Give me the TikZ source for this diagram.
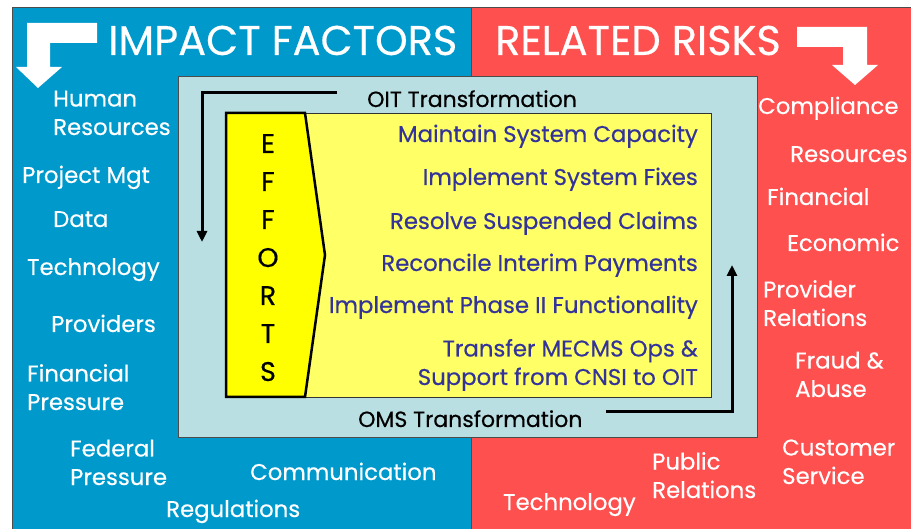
\documentclass[tikz,border=0pt]{standalone}
\usepackage{fontspec}
\setmainfont{Poppins}[FakeBold=0.4]
\usetikzlibrary{arrows.meta}
\definecolor{myblue}{RGB}{0,153,204}
\definecolor{myred}{RGB}{255,80,80}
\definecolor{mycyan}{RGB}{185,223,227}
\definecolor{mypale}{RGB}{255,255,102}
\definecolor{myyellow}{RGB}{255,255,0}
\definecolor{mynavy}{RGB}{51,51,153}
\newcommand\mysize[1]{\fontsize{#1}{28.5}\selectfont}

\begin{document}
\begin{tikzpicture}[x=1pt,y=-1pt,
    side/.style={anchor=base west,align=left,inner sep=0pt,text=white,
      font=\mysize{22.8}},
    task/.style={anchor=base east,align=right,inner sep=0pt,text=mynavy,
      font=\mysize{22.8}},
    title/.style={anchor=base west,inner sep=0pt,text=white,font=\mysize{41.5}},
    letter/.style={anchor=base,inner sep=0pt,font=\mysize{27}},
    trans/.style={anchor=base west,inner sep=0pt,font=\mysize{22}},
    flow/.style={line width=3pt,-{Triangle[length=11pt,width=10pt]}}]
    \useasboundingbox (0,0) rectangle (911,529);

    % two halves
    \filldraw[fill=myblue,draw=black!70] (12,7) rectangle (471,529);
    \filldraw[fill=myred,draw=black!70] (471,7) rectangle (911,529);

    % bent arrows
    \fill[white] (27,23) -- (97,23) -- (97,43) -- (50,43) -- (50,67)
      -- (62,67) -- (38,88) -- (16,67) -- (27,67) -- cycle;
    \fill[white] (797,27) -- (867,27) -- (867,65) -- (878,65) -- (855,85)
      -- (832,65) -- (843,65) -- (843,47) -- (797,47) -- cycle;

    \node[title] (impact) at (108,55) {IMPACT FACTORS};
    \node[title] (risks) at (495,55) {RELATED RISKS};

    % centre box
    \filldraw[fill=mycyan,draw=black!70,line width=1pt] (178,77) rectangle (757,438);
    \filldraw[fill=mypale,draw=black!80,line width=0.8pt] (226,113) rectangle (711,397);
    \filldraw[fill=myyellow,draw=black,line width=2.5pt,line join=miter]
      (226,113) -- (305,113) -- (325,255) -- (305,397) -- (226,397) -- cycle;

    \foreach \L [count=\i] in {E,F,F,O,R,T,S}
    {
      \node[letter] (ef\i) at (268,{153+38*(\i-1)}) {\L};
    }

    \node[task] (capacity) at (698,142) {Maintain System Capacity};
    \node[task] (fixes) at (698,185) {Implement System Fixes};
    \node[task] (claims) at (698,229) {Resolve Suspended Claims};
    \node[task] (payments) at (698,271) {Reconcile Interim Payments};
    \node[task] (phase) at (698,313) {Implement Phase II Functionality};
    \node[task] (mecms) at (698,385) {Transfer MECMS Ops \&\\Support from CNSI to OIT};

    % transformations
    \node[trans] (oit) at (367,107) {OIT Transformation};
    \node[trans] (oms) at (358,427) {OMS Transformation};
    \coordinate (oitA) at (337,93);
    \coordinate (oitB) at (202,242);
    \coordinate (omsA) at (606,412);
    \coordinate (omsB) at (732,265);
    \draw[flow] (oitA) -| (oitB);
    \draw[flow] (omsA) -| (omsB);

    % impact factors
    \node[side] (hr) at (53,135) {Human\\Resources};
    \node[side] (pm) at (22,183) {Project Mgt};
    \node[side] (data) at (53,227) {Data};
    \node[side] (tech) at (27,275) {Technology};
    \node[side] (prov) at (51,332) {Providers};
    \node[side] (fin) at (27,410) {Financial\\Pressure};
    \node[side] (fed) at (70,485) {Federal\\Pressure};
    \node[side] (comm) at (250,480) {Communication};
    \node[side] (regs) at (166,517) {Regulations};

    % related risks
    \node[side] (compl) at (758,114) {Compliance};
    \node[side] (res) at (790,162) {Resources};
    \node[side] (finr) at (767,205) {Financial};
    \node[side] (econ) at (787,251) {Economic};
    \node[side] (provr) at (763,326) {Provider\\Relations};
    \node[side] (fraud) at (795,397) {Fraud \&\\Abuse};
    \node[side] (cust) at (782,484) {Customer\\Service};
    \node[side] (pub) at (652,498) {Public\\Relations};
    \node[side] (techr) at (503,510) {Technology};
\end{tikzpicture}
\end{document}
